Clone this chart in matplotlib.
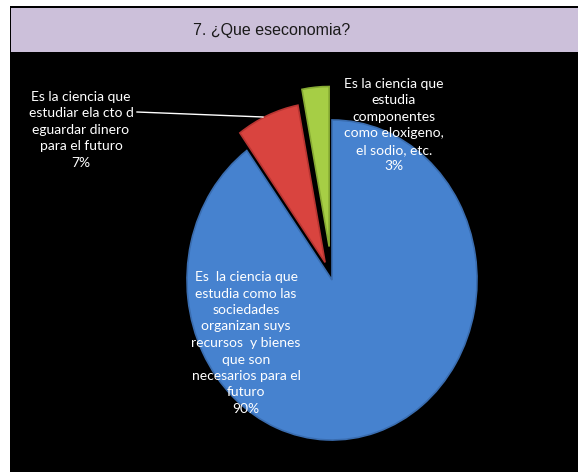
import matplotlib
matplotlib.use("Agg")
import matplotlib.pyplot as plt
from matplotlib.patches import Rectangle
from matplotlib.lines import Line2D

# ---- data ----
title = "7. ¿Que eseconomia?"
categories = [
    "Es  la ciencia que\nestudia como las\nsociedades\norganizan suys\nrecursos  y bienes\nque son\nnecesarios para el\nfuturo",
    "Es la ciencia que\nestudiar ela cto d\neguardar dinero\npara el futuro",
    "Es la ciencia que\nestudia\ncomponentes\ncomo eloxigeno,\nel sodio, etc.",
]
values = [90, 7, 3]
colors = ["#4682CF", "#D9443F", "#A6CE45"]
edge_colors = ["#3A6DB0", "#B83532", "#86AA33"]
explode = [0.0, 0.12, 0.21]

W, H = 578, 472
fig = plt.figure(figsize=(W / 100, H / 100), dpi=100, facecolor="white")

def fx(x):
    return x / W

def fy(y):
    return 1 - y / H

# background frame
bg = [
    ((10, 472), (578, 52), "black"),
    ((10, 52), (578, 8), "#CCC0DA"),
    ((10, 8), (578, 6), "black"),
    ((10, 472), (11.5, 6), "black"),
]
for (x0, y0), (x1, y1), c in bg:
    fig.patches.append(Rectangle((fx(x0), fy(y0)), fx(x1) - fx(x0), fy(y1) - fy(y0),
                                 transform=fig.transFigure, facecolor=c,
                                 edgecolor="none", zorder=-5))

fig.text(fx(272), fy(31), title, ha="center", va="center", fontsize=11.5,
         family="Liberation Sans", color="#1a1a1a")

# pie axes: centre (332, 280) px, rx 145 px, ry 160 px
cx, cy, rx, ry = 332, 280, 145, 160
xl, yl = 1.3, 1.2
aw, ah = 2 * xl * rx, 2 * yl * ry
ax = fig.add_axes([fx(cx - aw / 2), fy(cy + ah / 2), aw / W, ah / H])
ax.set_zorder(1)
ax.set_facecolor("none")
wedges, _ = ax.pie(values, colors=colors, explode=explode, startangle=90,
                   counterclock=False, radius=1.0,
                   wedgeprops=dict(linewidth=1.2))
for w, ec in zip(wedges, edge_colors):
    w.set_edgecolor(ec)
ax.set_aspect("auto")
ax.set_xlim(-xl, xl)
ax.set_ylim(-yl, yl)
ax.axis("off")

# labels
label_pos = [(246, 343), (81, 130), (394, 125)]
for cat, val, (x, y) in zip(categories, values, label_pos):
    fig.text(fx(x), fy(y), f"{cat}\n{val}%", ha="center", va="center",
             fontsize=10, family="Lato", color="white", linespacing=1.45, zorder=5)

# leader line for the 7% label
fig.lines.append(Line2D([fx(137), fx(263)], [fy(112), fy(117)], transform=fig.transFigure,
                        color="white", linewidth=1, zorder=5))

fig.savefig("out.png", dpi=100, facecolor="white")
